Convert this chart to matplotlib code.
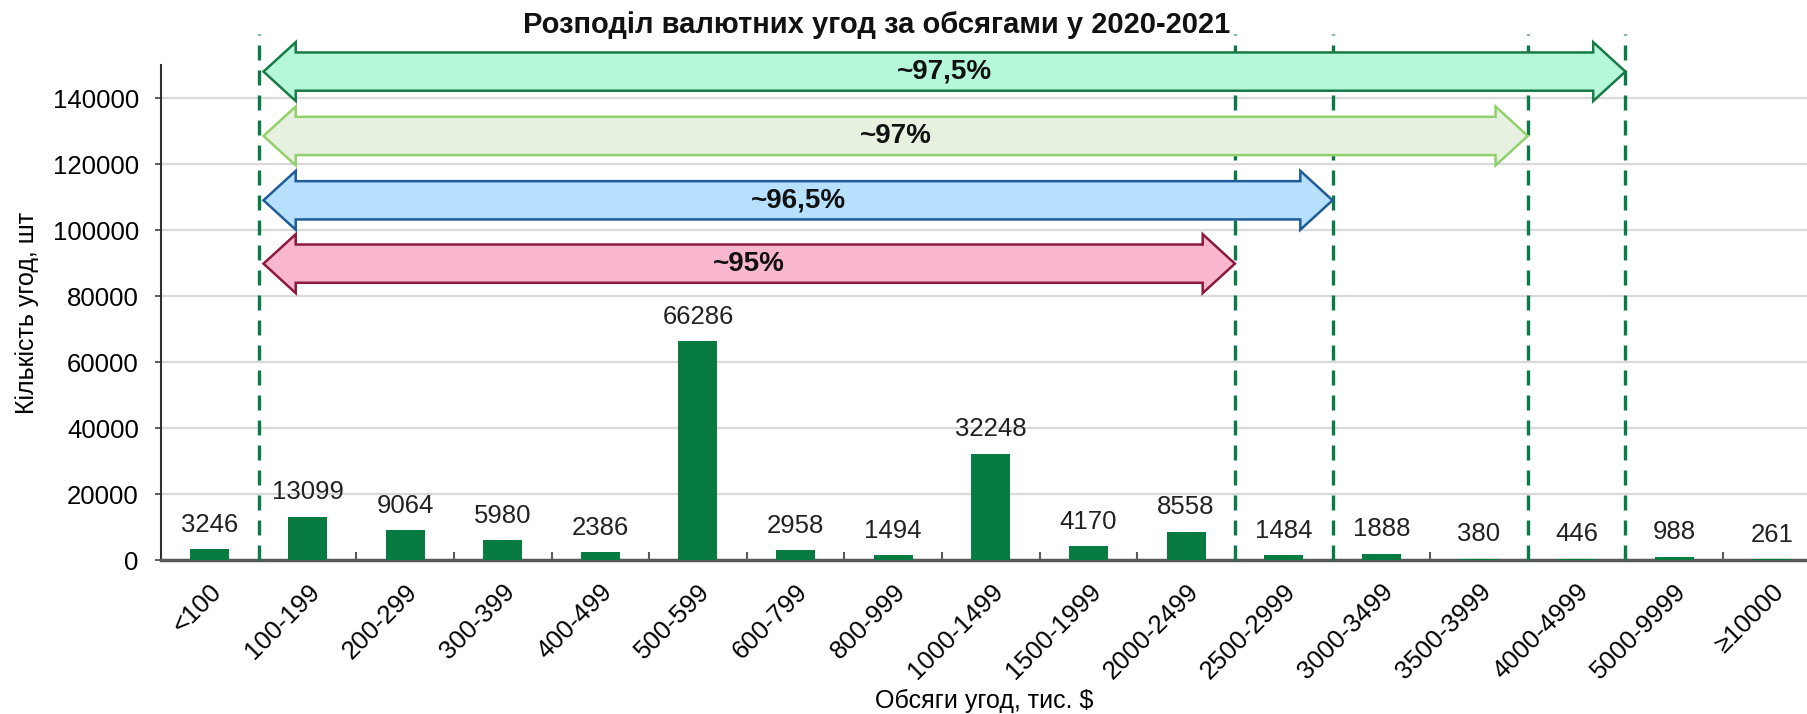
import numpy as np
import matplotlib
matplotlib.use("Agg")
import matplotlib.pyplot as plt
from matplotlib.patches import Polygon

plt.rcParams['font.family'] = ['Liberation Sans', 'DejaVu Sans']

# ---- data ----
categories = ['<100', '100-199', '200-299', '300-399', '400-499', '500-599',
              '600-799', '800-999', '1000-1499', '1500-1999', '2000-2499',
              '2500-2999', '3000-3499', '3500-3999', '4000-4999', '5000-9999',
              '≥10000']
counts = [3246, 13099, 9064, 5980, 2386, 66286, 2958, 1494, 32248, 4170,
          8558, 1484, 1888, 380, 446, 988, 261]

# shares: label, last category included, arrow height
share_labels = ['~95%', '~96,5%', '~97%', '~97,5%']
share_last_cat = ['2000-2499', '2500-2999', '3500-3999', '4000-4999']
share_y = [89800, 109000, 128500, 148000]
share_face = ['#f9b6cf', '#b6e0fd', '#e6f2df', '#b4f8d9']
share_edge = ['#8b1a3c', '#1f5c98', '#92d06c', '#187a45']
start_cat = '100-199'

bar_color = '#077b42'

fig = plt.figure(figsize=(18.07, 7.14), dpi=100)
ax = fig.add_axes([161 / 1807, 1 - 560 / 714, 1 - 161 / 1807, (560 - 65) / 714])

x = np.arange(len(categories))
ax.bar(x, counts, width=0.4, color=bar_color, zorder=3)
for xi, v in zip(x, counts):
    ax.annotate(str(v), (xi, v), xytext=(0, 9), textcoords='offset points',
                ha='center', va='bottom', fontsize=18.5, color='#222222')

ax.set_xlim(-0.5, 16.36)
ax.set_ylim(0, 150000)
ax.set_yticks(np.arange(0, 150001, 20000))
ax.yaxis.grid(True, color='#d9d9d9', lw=1.6, zorder=0)
ax.set_axisbelow(True)

ax.set_xticks(x)
ax.set_xticklabels(categories, rotation=45, ha='right', rotation_mode='anchor',
                   fontsize=18.5)
ax.tick_params(axis='x', length=0, pad=14)
ax.set_xticks(np.arange(0.5, len(categories) - 0.5), minor=True)
ax.tick_params(axis='x', which='minor', direction='in', length=6, width=1.5,
               color='#595959')
ax.tick_params(axis='y', labelsize=18.5, length=4, width=1.2, color='#404040',
               pad=12)

for s in ['top', 'right']:
    ax.spines[s].set_visible(False)
ax.spines['left'].set_color('#303030')
ax.spines['left'].set_linewidth(1.5)
ax.spines['bottom'].set_color('#595959')
ax.spines['bottom'].set_linewidth(2.5)

ax.set_xlabel('Обсяги угод, тис. $', fontsize=18, labelpad=4)
ax.set_ylabel('Кількість угод, шт', fontsize=18, labelpad=10)

# dashed boundaries
x0 = categories.index(start_cat) - 0.5
bounds = [x0] + [categories.index(c) + 0.5 for c in share_last_cat]
for b in bounds:
    ax.plot([b, b], [0, 159500], color='#0b7a44', lw=2.4, ls=(0, (4.5, 3)),
            clip_on=False, zorder=4)

# double-headed arrows
hl = 0.33
sh = 5800
hh = 8930
for lab, last, yc, fc, ec in zip(share_labels, share_last_cat, share_y,
                                 share_face, share_edge):
    xa = x0 + 0.05
    xb = categories.index(last) + 0.5
    pts = [(xa, yc), (xa + hl, yc + hh), (xa + hl, yc + sh), (xb - hl, yc + sh),
           (xb - hl, yc + hh), (xb, yc), (xb - hl, yc - hh), (xb - hl, yc - sh),
           (xa + hl, yc - sh), (xa + hl, yc - hh)]
    ax.add_patch(Polygon(pts, closed=True, facecolor=fc, edgecolor=ec, lw=1.8,
                         clip_on=False, zorder=5))
    ax.text((xa + xb) / 2, yc, lab, ha='center', va='center', fontsize=20,
            fontweight='bold', color='#111111', zorder=6)

fig.text(877 / 1807, 1 - 25 / 714, 'Розподіл валютних угод за обсягами у 2020-2021',
         ha='center', va='center', fontsize=21, fontweight='bold', color='#111111')

fig.savefig('out.png', dpi=100)
